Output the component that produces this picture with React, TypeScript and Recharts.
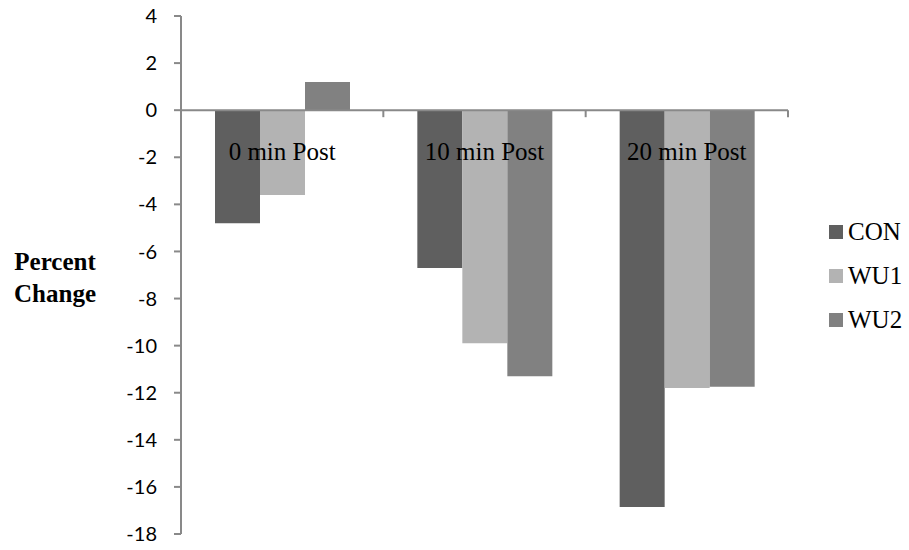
import { BarChart, Bar, XAxis, YAxis, ReferenceLine, Legend } from 'recharts';

const categories = ['0 min Post', '10 min Post', '20 min Post'];
const conValues = [-4.8, -6.7, -16.85];
const wu1Values = [-3.6, -9.9, -11.8];
const wu2Values = [1.2, -11.3, -11.75];
const yTicks = [4, 2, 0, -2, -4, -6, -8, -10, -12, -14, -16, -18];

const series = [
  { key: 'CON', color: '#5f5f5f' },
  { key: 'WU1', color: '#b3b3b3' },
  { key: 'WU2', color: '#818181' },
];

const data = categories.map((name, i) => ({
  name,
  CON: conValues[i],
  WU1: wu1Values[i],
  WU2: wu2Values[i],
}));

const WIDTH = 909;
const HEIGHT = 550;
const LEGEND_W = 80;
// the legend's width is added to the right offset, so it is taken off the margin here
const MARGIN = { top: 16, right: 121 - LEGEND_W, bottom: 15, left: 121 };
const Y_AXIS_WIDTH = 60;
const X_AXIS_HEIGHT = 1;
const Y_MIN = -18;
const Y_MAX = 4;

const plotW = WIDTH - MARGIN.left - Y_AXIS_WIDTH - 121;
const plotH = HEIGHT - MARGIN.top - MARGIN.bottom - X_AXIS_HEIGHT;
const zeroY = MARGIN.top + (plotH * Y_MAX) / (Y_MAX - Y_MIN);
const band = plotW / categories.length;

const axisGray = '#898989';

// category labels sit just under the zero line, with a divider tick at each band edge
function CategoryTick(props: any) {
  const { x, payload } = props;
  return (
    <g>
      <text
        x={x}
        y={zeroY + 50}
        textAnchor="middle"
        fontFamily="'Liberation Serif', serif"
        fontSize={25}
        fill="#000"
      >
        {payload.value}
      </text>
      <line x1={x + band / 2} x2={x + band / 2} y1={zeroY} y2={zeroY + 7} stroke={axisGray} strokeWidth={2} />
    </g>
  );
}

function LegendBox() {
  return (
    <div style={{ fontFamily: "'Liberation Serif', serif", fontSize: 25, color: '#000' }}>
      {series.map((s) => (
        <div key={s.key} style={{ display: 'flex', alignItems: 'center', height: 44 }}>
          <span style={{ width: 14, height: 14, background: s.color, marginRight: 5, display: 'inline-block' }} />
          {s.key}
        </div>
      ))}
    </div>
  );
}

export default function App() {
  return (
    <div style={{ position: 'absolute', left: 0, top: 0, background: '#fff' }}>
      <BarChart
        width={WIDTH}
        height={HEIGHT}
        data={data}
        margin={MARGIN}
        barCategoryGap={34}
        barGap={0}
      >
        <YAxis
          width={Y_AXIS_WIDTH}
          domain={[Y_MIN, Y_MAX]}
          ticks={yTicks}
          interval={0}
          axisLine={{ stroke: axisGray, strokeWidth: 2 }}
          tickLine={{ stroke: axisGray, strokeWidth: 2 }}
          tickSize={7}
          tickMargin={17}
          tick={{ fill: '#000', fontSize: 20, fontFamily: 'Lato, sans-serif' }}
          label={{
            content: () => (
              <text
                textAnchor="middle"
                fontFamily="'Liberation Serif', serif"
                fontWeight="bold"
                fontSize={25}
                fill="#000"
              >
                <tspan x={55} y={270}>Percent</tspan>
                <tspan x={55} y={302}>Change</tspan>
              </text>
            ),
          }}
        />
        <Legend
          layout="horizontal"
          verticalAlign="middle"
          align="right"
          content={<LegendBox />}
          wrapperStyle={{ left: 829, top: 210, width: LEGEND_W }}
        />
        {series.map((s) => (
          <Bar key={s.key} dataKey={s.key} fill={s.color} isAnimationActive={false} />
        ))}
        <ReferenceLine y={0} stroke={axisGray} strokeWidth={2} />
        <XAxis
          dataKey="name"
          height={X_AXIS_HEIGHT}
          axisLine={false}
          tickLine={false}
          tick={(p: any) => <CategoryTick {...p} />}
          interval={0}
        />
      </BarChart>
    </div>
  );
}
